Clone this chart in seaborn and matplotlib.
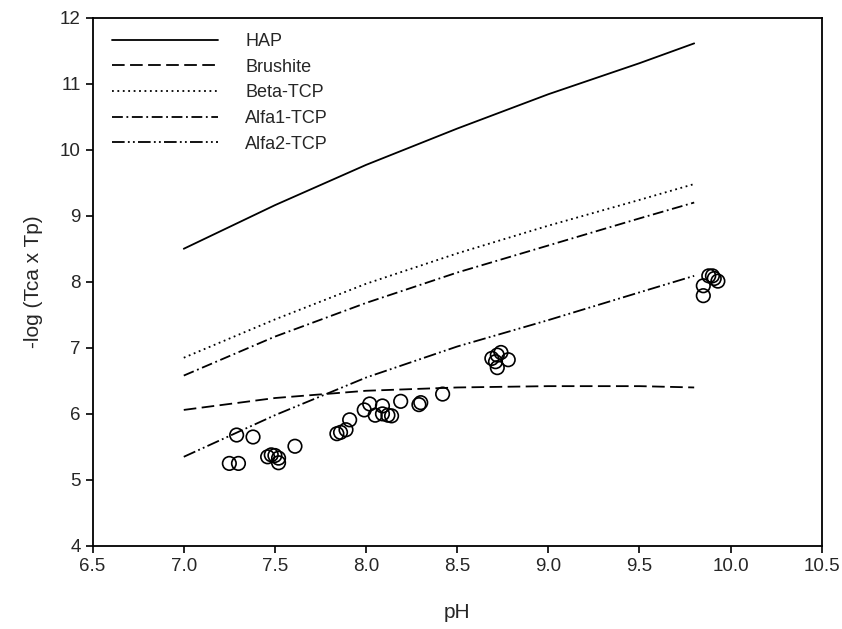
import matplotlib
matplotlib.use("Agg")
import matplotlib.pyplot as plt
import seaborn as sns
import pandas as pd

# model curves, -log(Tca x Tp) vs pH
ph_curve = [7.0, 7.5, 8.0, 8.5, 9.0, 9.5, 9.8]
hap = [8.50, 9.16, 9.77, 10.32, 10.84, 11.31, 11.61]
brushite = [6.06, 6.24, 6.35, 6.40, 6.42, 6.42, 6.40]
beta_tcp = [6.85, 7.43, 7.97, 8.43, 8.85, 9.24, 9.48]
alfa1_tcp = [6.58, 7.17, 7.68, 8.14, 8.55, 8.96, 9.20]
alfa2_tcp = [5.35, 5.98, 6.55, 7.02, 7.42, 7.84, 8.09]
phases = ["HAP", "Brushite", "Beta-TCP", "Alfa1-TCP", "Alfa2-TCP"]

# measured samples
ph_meas = [7.25, 7.30, 7.29, 7.38, 7.46, 7.48, 7.50, 7.52, 7.52, 7.61,
           7.84, 7.86, 7.89, 7.91, 7.99, 8.02, 8.05, 8.09, 8.09, 8.12,
           8.14, 8.19, 8.29, 8.30, 8.42, 8.72, 8.69, 8.78, 8.72, 8.71,
           8.74, 9.85, 9.85, 9.88, 9.90, 9.93, 9.91]
logp_meas = [5.25, 5.25, 5.68, 5.65, 5.35, 5.38, 5.37, 5.33, 5.26, 5.51,
             5.70, 5.72, 5.76, 5.91, 6.06, 6.15, 5.98, 6.12, 6.00, 5.98,
             5.97, 6.19, 6.14, 6.17, 6.30, 6.89, 6.84, 6.82, 6.70, 6.79,
             6.93, 7.79, 7.94, 8.09, 8.09, 8.01, 8.05]

curves = pd.DataFrame({
    "pH": ph_curve * 5,
    "val": hap + brushite + beta_tcp + alfa1_tcp + alfa2_tcp,
    "phase": [p for p in phases for _ in ph_curve],
})
meas = pd.DataFrame({"pH": ph_meas, "val": logp_meas})

sns.set_style("ticks")
plt.rcParams["font.family"] = ["Liberation Sans", "DejaVu Sans"]

fig = plt.figure(figsize=(8.42, 6.29), dpi=100)
ax = fig.add_axes([0.110, 0.132, 0.866, 0.840])

dash_map = {
    "HAP": "",
    "Brushite": (7, 3),
    "Beta-TCP": (1, 2),
    "Alfa1-TCP": (6, 2, 1, 2),
    "Alfa2-TCP": (7, 1.8, 1, 1.8, 1, 1.8),
}
sns.lineplot(data=curves, x="pH", y="val", style="phase", style_order=phases,
             dashes=dash_map, color="black", linewidth=1.3, ax=ax, sort=False)
sns.scatterplot(data=meas, x="pH", y="val", s=95, facecolor="none",
                edgecolor="black", linewidth=1.2, legend=False, ax=ax)

ax.set_xlim(6.5, 10.5)
ax.set_ylim(4, 12)
ax.set_xticks([6.5, 7.0, 7.5, 8.0, 8.5, 9.0, 9.5, 10.0, 10.5])
ax.set_xticklabels(["6.5", "7.0", "7.5", "8.0", "8.5", "9.0", "9.5", "10.0", "10.5"])
ax.set_yticks(range(4, 13))
ax.tick_params(direction="out", length=5, width=1.2, labelsize=13.5, color="black")
for sp in ax.spines.values():
    sp.set_linewidth(1.3)
    sp.set_color("black")
ax.set_xlabel("pH", fontsize=15, labelpad=20)
ax.set_ylabel("-log (Tca x Tp)", fontsize=15, labelpad=12)

handles, labels = ax.get_legend_handles_labels()
ax.legend(handles, labels, loc="upper left", frameon=False, fontsize=13,
          handlelength=5.9, handletextpad=1.5, labelspacing=0.48,
          borderaxespad=0.45, bbox_to_anchor=(0.005, 1.0))

fig.savefig("out.png", dpi=100)
